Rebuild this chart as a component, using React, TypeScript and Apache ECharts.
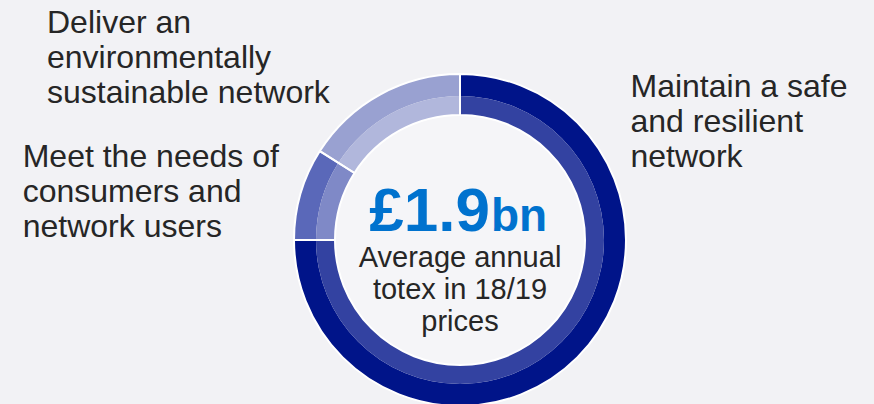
import React, { useEffect, useRef } from 'react';
import * as echarts from 'echarts';

const categories = [
  'Maintain a safe\nand resilient\nnetwork',
  'Meet the needs of\nconsumers and\nnetwork users',
  'Deliver an\nenvironmentally\nsustainable network',
];
const shares = [75, 9, 16];
const outerColors = ['#001489', '#5a68b9', '#99a1d1'];
const innerColors = ['#3342a1', '#7f89c7', '#b1b7dc'];
const headline = '£1.9';
const headlineUnit = 'bn';
const subtitle = 'Average annual\ntotex in 18/19\nprices';

const FONT = '"Liberation Sans", Arial, Helvetica, sans-serif';
const TEXT = '#262626';
const BLUE = '#0072ce';

export default function App() {
  const ref = useRef<HTMLDivElement>(null);

  useEffect(() => {
    if (!ref.current) return;
    const chart = echarts.init(ref.current, undefined, { renderer: 'svg' });
    const center = [460, 240];
    const base = {
      type: 'pie',
      center,
      startAngle: 90,
      clockwise: true,
      silent: true,
      label: { show: false },
      labelLine: { show: false },
      emphasis: { disabled: true },
      avoidLabelOverlap: false,
    };
    const labelPos = [
      { x: 630.5, y: 68.2 },
      { x: 22.7, y: 138.8 },
      { x: 47, y: 4.2 },
    ];
    const txt = (x: number, y: number, text: string, o: any) => ({
      type: 'text',
      x,
      y,
      z: 100,
      zlevel: 0,
      silent: true,
      style: {
        text,
        fill: o.fill || TEXT,
        fontFamily: FONT,
        fontSize: o.fontSize,
        fontWeight: o.fontWeight || 'normal',
        lineHeight: o.lineHeight,
        align: o.align,
        textAlign: o.align,
        verticalAlign: o.va,
        textVerticalAlign: o.va,
      },
    });
    chart.setOption({
      animation: false,
      backgroundColor: '#f2f2f5',
      series: [
        {
          ...base,
          radius: [0, 125],
          data: [{ value: 1, itemStyle: { color: '#f5f5f8' } }],
        },
        {
          ...base,
          radius: [144, 166],
          data: shares.map((v, i) => ({ name: categories[i], value: v, itemStyle: { color: outerColors[i] } })),
        },
        {
          ...base,
          radius: [125, 144],
          data: shares.map((v, i) => ({ name: categories[i], value: v, itemStyle: { color: innerColors[i] } })),
        },
        {
          ...base,
          radius: [125, 166],
          data: shares.map((v, i) => ({
            name: categories[i],
            value: v,
            itemStyle: { color: 'rgba(0,0,0,0)', borderColor: '#ffffff', borderWidth: 2 },
          })),
        },
      ],
      graphic: {
        elements: [
          ...categories.map((c, i) =>
            txt(labelPos[i].x, labelPos[i].y, c, { fontSize: 32, lineHeight: 35, align: 'left', va: 'top' })
          ),
          txt(490, 209.5, headline, { fontSize: 62, fontWeight: 'bold', fill: BLUE, align: 'right', va: 'middle' }),
          txt(491, 215, headlineUnit, { fontSize: 46, fontWeight: 'bold', fill: BLUE, align: 'left', va: 'middle' }),
          txt(460, 241, subtitle, { fontSize: 29, lineHeight: 32, align: 'center', va: 'top' }),
        ],
      },
    });
    return () => chart.dispose();
  }, []);

  return (
    <div
      ref={ref}
      style={{ position: 'fixed', left: 0, top: 0, width: 874, height: 404 }}
    />
  );
}
